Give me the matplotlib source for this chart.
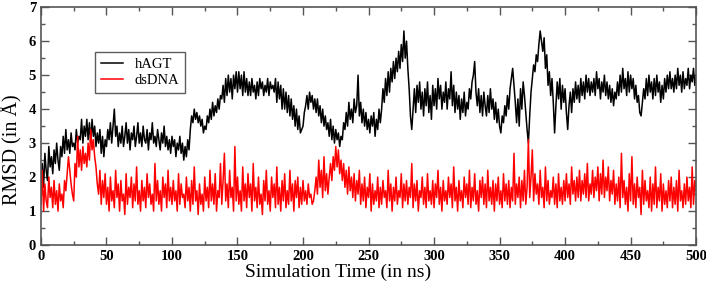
import numpy as np
import matplotlib
matplotlib.use("Agg")
import matplotlib.pyplot as plt
from matplotlib.ticker import MultipleLocator

# RMSD traces, one sample per ns (0..500 ns)
time_ns = np.arange(0, 501, 1)

hagt = [
    1.8, 2.4, 1.7, 2.7, 2.2, 1.9, 2.9, 2.3, 2.6, 2.1,
    2.8, 2.4, 3.0, 2.5, 2.2, 2.9, 2.6, 3.2, 2.7, 3.4,
    2.8, 3.1, 2.7, 3.3, 2.9, 3.0, 2.8, 3.4, 3.0, 3.2,
    3.1, 3.7, 3.0, 3.5, 3.2, 3.7, 3.1, 3.6, 3.0, 3.7,
    3.2, 3.5, 2.9, 3.3, 3.0, 3.4, 2.7, 3.2, 2.6, 3.1,
    2.9, 3.4, 3.1, 3.6, 3.0, 3.5, 4.0, 3.2, 3.5, 2.9,
    3.3, 3.0, 3.5, 2.9, 3.2, 3.6, 3.0, 3.4, 2.8, 3.3,
    3.1, 3.5, 2.9, 3.2, 3.6, 3.0, 3.3, 2.9, 3.5, 3.1,
    3.0, 3.4, 2.8, 3.3, 3.1, 3.6, 3.0, 3.2, 2.9, 3.4,
    3.1, 2.8, 3.3, 3.0, 3.5, 2.9, 3.2, 2.8, 3.1, 2.7,
    3.2, 2.9, 3.1, 2.6, 3.0, 2.8, 3.2, 2.7, 3.0, 2.5,
    2.9, 2.6, 3.1, 2.8, 3.4, 3.8, 3.6, 4.0, 3.7, 3.9,
    3.6, 3.8, 3.5, 3.7, 3.3, 3.5, 3.4, 3.8, 3.6, 4.0,
    3.7, 4.2, 3.8, 4.1, 3.9, 4.3, 4.0, 4.4, 4.3, 4.7,
    4.2, 4.9, 4.4, 5.0, 4.5, 4.9, 4.3, 5.0, 4.6, 5.1,
    4.5, 5.1, 4.6, 5.0, 4.4, 5.1, 4.5, 4.9, 4.4, 4.8,
    4.4, 4.9, 4.5, 4.7, 4.3, 4.8, 4.4, 4.9, 4.6, 4.8,
    4.4, 4.7, 4.5, 4.9, 4.4, 4.8, 4.6, 4.7, 4.5, 4.9,
    4.2, 4.8, 4.3, 4.7, 4.0, 4.6, 4.0, 4.5, 3.9, 4.4,
    3.8, 4.3, 3.7, 4.1, 3.5, 4.0, 3.4, 3.8, 3.3, 3.4,
    3.5, 3.9, 4.1, 4.4, 4.0, 4.5, 4.2, 4.4, 4.0, 4.3,
    3.9, 4.3, 3.8, 4.1, 3.6, 4.0, 3.5, 3.8, 3.4, 3.6,
    3.2, 3.7, 3.1, 3.5, 3.0, 3.4, 3.1, 3.3, 2.9, 3.2,
    3.1, 3.6, 3.4, 3.9, 3.5, 4.2, 3.7, 4.0, 3.6, 4.3,
    3.9, 4.1, 5.0, 3.8, 4.2, 3.6, 4.0, 3.5, 3.9, 3.4,
    3.7, 3.3, 3.8, 3.5, 3.9, 3.2, 3.7, 3.4, 4.0, 3.6,
    4.0, 4.6, 4.2, 4.9, 4.4, 5.1, 4.5, 5.2, 4.8, 5.4,
    4.9, 5.5, 5.1, 5.7, 5.2, 5.9, 5.4, 6.3, 5.5, 6.0,
    5.2, 4.6, 3.8, 3.4, 4.0, 4.6, 3.9, 4.7, 4.2, 4.8,
    4.0, 4.5, 3.8, 4.6, 4.1, 4.8, 3.9, 4.4, 3.7, 4.7,
    4.1, 4.6, 4.0, 4.9, 4.3, 4.7, 4.0, 4.5, 4.2, 4.8,
    4.0, 4.6, 4.3, 5.1, 4.1, 4.7, 3.9, 4.5, 4.0, 4.4,
    3.7, 4.3, 3.9, 4.5, 3.8, 4.2, 4.0, 4.6, 4.3, 4.8,
    5.0, 5.4, 4.5, 4.1, 4.6, 3.9, 4.4, 3.8, 4.5, 4.1,
    3.8, 4.4, 3.9, 4.6, 4.0, 4.3, 3.7, 4.2, 3.6, 4.0,
    3.5, 3.3, 3.8, 3.6, 4.1, 3.8, 4.4, 4.0, 4.6, 4.9,
    5.2, 4.7, 4.2, 3.6, 4.3, 3.5, 4.6, 4.0, 4.8, 4.4,
    3.9, 3.4, 3.0, 3.8, 4.5, 4.9, 5.3, 5.1, 5.6, 5.4,
    5.9, 6.3, 6.0, 5.7, 6.1, 5.2, 5.6, 4.7, 5.1, 4.4,
    4.9, 4.2, 3.3, 4.1, 4.8, 4.3, 4.9, 4.0, 4.7, 4.2,
    4.6, 3.9, 3.4, 4.1, 4.5, 3.9, 4.6, 4.2, 4.8, 4.3,
    4.7, 4.2, 4.9, 4.4, 4.8, 4.3, 5.0, 4.5, 4.9, 4.4,
    4.8, 4.5, 4.9, 4.4, 5.1, 4.6, 4.9, 4.3, 4.8, 4.5,
    5.0, 4.4, 4.8, 4.3, 4.7, 4.2, 4.6, 4.1, 4.5, 4.3,
    4.8, 4.4, 5.0, 4.5, 5.2, 4.6, 4.9, 4.4, 5.1, 4.5,
    5.0, 4.6, 4.9, 4.3, 4.7, 4.2, 4.4, 3.9, 3.8, 4.2,
    4.6, 4.3, 4.9, 4.4, 5.0, 4.5, 4.8, 4.3, 4.9, 4.4,
    5.0, 4.5, 4.8, 4.2, 4.7, 4.3, 4.9, 4.5, 5.0, 4.6,
    5.1, 4.6, 4.9, 4.5, 5.0, 4.6, 5.2, 4.7, 5.0, 4.5,
    5.1, 4.6, 4.9, 4.7, 5.2, 4.6, 5.0, 4.8, 5.2, 4.7,
    5.0,
]

dsdna = [
    1.2, 2.2, 1.0, 1.8, 1.3, 1.1, 2.0, 1.4, 1.7, 1.1,
    1.9, 1.2, 1.6, 1.0, 1.8, 1.3, 1.5, 1.1, 1.9, 1.6,
    2.1, 2.6, 2.2, 1.8, 1.5, 1.3, 2.4, 2.0, 3.2, 2.3,
    2.8, 2.2, 2.9, 2.4, 2.7, 2.3, 3.0, 2.5, 3.4, 2.8,
    3.1, 2.6, 2.3, 1.8, 1.5, 2.2, 1.2, 1.9, 1.4, 2.1,
    1.2, 1.7, 1.0, 2.0, 1.3, 1.6, 1.1, 2.2, 1.4, 1.8,
    1.0, 1.9, 1.3, 1.5, 0.9, 2.1, 1.2, 1.7, 1.4, 2.0,
    1.1, 1.8, 1.3, 2.3, 1.2, 1.6, 1.0, 1.9, 1.3, 1.7,
    1.1, 2.1, 1.4, 1.8, 1.2, 1.5, 1.0, 2.4, 1.3, 1.9,
    1.2, 1.6, 1.0, 2.0, 1.4, 1.8, 1.1, 2.2, 1.3, 1.7,
    1.2, 1.9, 1.3, 1.6, 1.0, 2.1, 1.2, 1.8, 1.4, 1.5,
    1.1, 2.0, 1.3, 1.7, 1.0, 1.9, 1.2, 2.3, 1.3, 1.6,
    0.9, 1.8, 1.2, 1.5, 1.0, 2.0, 1.3, 1.7, 1.1, 2.2,
    1.3, 1.8, 1.2, 2.1, 1.0, 1.6, 1.4, 2.4, 1.2, 1.9,
    2.7, 1.3, 1.8, 1.1, 2.2, 1.4, 1.7, 1.0, 2.9, 1.3,
    2.0, 1.2, 1.6, 1.0, 2.3, 1.3, 1.8, 1.1, 2.1, 1.4,
    1.8, 1.0, 2.4, 1.3, 1.7, 1.1, 2.0, 1.2, 1.5, 0.9,
    1.9, 1.3, 2.2, 1.2, 1.6, 1.0, 2.0, 1.4, 1.8, 1.1,
    2.3, 1.2, 1.7, 1.0, 1.9, 1.3, 2.1, 1.1, 1.6, 1.2,
    2.2, 1.3, 1.8, 1.0, 1.9, 1.4, 2.0, 1.1, 1.7, 1.2,
    1.9, 1.3, 1.6, 1.2, 1.8, 1.4, 1.5, 1.2, 1.3, 1.6,
    2.0, 1.5, 2.5, 1.7, 2.2, 1.4, 2.6, 1.6, 2.1, 1.5,
    2.0, 2.4, 1.9, 2.6, 2.2, 2.9, 2.3, 2.8, 2.1, 2.5,
    1.9, 2.4, 1.7, 2.2, 1.5, 2.3, 1.6, 2.0, 1.4, 2.1,
    1.3, 1.9, 1.5, 2.2, 1.2, 1.8, 1.3, 2.0, 1.1, 1.7,
    1.4, 2.1, 1.0, 1.8, 1.2, 1.6, 1.3, 2.0, 1.1, 1.7,
    1.2, 1.9, 1.4, 1.6, 1.1, 2.2, 1.3, 1.8, 1.0, 1.7,
    1.3, 2.0, 1.2, 1.6, 1.4, 2.1, 1.1, 1.8, 1.3, 1.9,
    1.2, 1.7, 1.4, 2.4, 1.1, 1.8, 1.3, 1.9, 1.0, 1.6,
    1.4, 2.0, 1.2, 1.7, 1.1, 2.1, 1.3, 1.6, 1.2, 1.9,
    1.1, 1.8, 1.4, 2.2, 1.2, 1.7, 1.0, 1.9, 1.3, 1.6,
    1.2, 2.0, 1.4, 1.8, 1.1, 2.3, 1.3, 1.7, 1.0, 1.9,
    1.3, 1.6, 1.1, 2.0, 1.4, 1.8, 1.2, 2.2, 1.1, 1.7,
    1.3, 2.1, 1.2, 1.6, 1.0, 1.9, 1.4, 2.0, 1.2, 1.8,
    1.1, 2.2, 1.3, 1.7, 1.2, 1.9, 1.0, 1.8, 1.3, 2.0,
    1.2, 1.6, 1.1, 2.1, 1.3, 1.8, 1.2, 1.9, 1.1, 1.7,
    1.3, 2.7, 1.2, 1.8, 1.4, 2.0, 1.1, 1.9, 1.3, 2.2,
    1.2, 1.7, 3.1, 1.4, 2.0, 2.8, 1.3, 2.1, 1.5, 1.8,
    1.2, 2.2, 1.4, 1.7, 1.1, 2.3, 1.3, 1.9, 1.2, 1.6,
    1.4, 2.0, 1.2, 1.8, 1.1, 2.1, 1.3, 1.7, 1.2, 1.9,
    1.3, 2.1, 1.4, 1.8, 1.2, 2.3, 1.5, 1.9, 1.3, 2.0,
    1.4, 2.2, 1.3, 1.9, 1.5, 2.1, 1.4, 2.4, 1.3, 1.8,
    1.5, 2.2, 1.4, 2.0, 1.6, 2.3, 1.3, 2.1, 1.5, 2.5,
    1.4, 2.0, 1.6, 2.3, 1.3, 1.9, 1.5, 2.2, 1.2, 1.8,
    1.3, 2.0, 1.1, 2.7, 1.4, 1.9, 1.2, 1.7, 1.0, 2.1,
    1.3, 2.6, 1.2, 1.8, 1.1, 2.0, 1.4, 1.7, 0.9, 2.2,
    1.2, 1.9, 1.3, 1.6, 1.1, 2.0, 1.0, 1.8, 1.2, 2.3,
    1.1, 1.7, 1.3, 2.1, 1.0, 1.8, 1.2, 1.6, 1.1, 1.9,
    1.3, 2.0, 1.1, 1.7, 1.2, 1.9, 1.0, 2.2, 1.3, 1.6,
    1.1, 1.8, 1.2, 2.0, 1.3, 1.7, 1.1, 2.3, 1.2, 1.9,
    1.6,
]

plt.rcParams['font.family'] = ['Liberation Serif', 'DejaVu Serif']

fig = plt.figure(figsize=(7.06, 2.86), dpi=100)
ax = fig.add_axes([0.058, 0.143, 0.928, 0.832])

ax.plot(time_ns, hagt, color='black', lw=1.1, label='hAGT')
ax.plot(time_ns, dsdna, color='red', lw=1.1, label='dsDNA')

ax.set_xlim(0, 500)
ax.set_ylim(0, 7)
ax.xaxis.set_major_locator(MultipleLocator(50))
ax.xaxis.set_minor_locator(MultipleLocator(25))
ax.yaxis.set_major_locator(MultipleLocator(1))
ax.yaxis.set_minor_locator(MultipleLocator(0.5))
ax.tick_params(which='both', direction='in', top=True, right=True, colors='#555555',
               labelcolor='black', labelsize=10.5)
ax.tick_params(which='major', length=6, width=1)
ax.tick_params(which='minor', length=3, width=1)
for lab in ax.get_xticklabels() + ax.get_yticklabels():
    lab.set_fontweight('bold')
for sp in ax.spines.values():
    sp.set_color('#555555')
    sp.set_linewidth(1.2)

ax.set_xlabel('Simulation Time (in ns)', fontsize=14)
ax.xaxis.set_label_coords(0.453, -0.078)
ax.set_ylabel('RMSD (in Å)', fontsize=14.5)
ax.yaxis.set_label_coords(-0.028, 0.40)

leg = ax.legend(loc='upper left', bbox_to_anchor=(0.083, 0.81), fontsize=10.5,
                frameon=True, fancybox=False, handlelength=1.5, borderpad=0.4,
                labelspacing=0.15, handletextpad=0.8, borderaxespad=0)
leg.get_frame().set_edgecolor('#333333')
leg.get_frame().set_linewidth(1.0)

fig.savefig('out.png', dpi=100)
